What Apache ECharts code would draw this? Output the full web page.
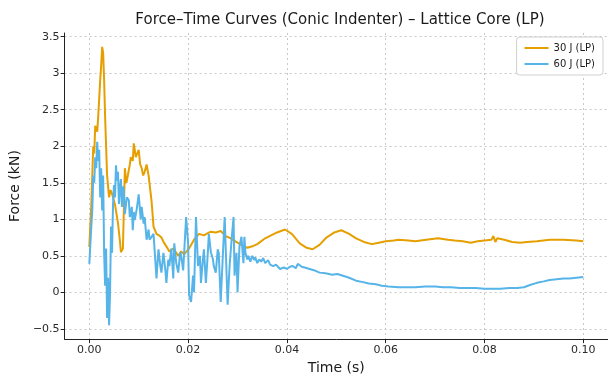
<!DOCTYPE html>
<html>
<head>
<meta charset="utf-8">
<script src="https://cdn.jsdelivr.net/npm/echarts@6/dist/echarts.min.js"></script>
<style>html,body{margin:0;padding:0;background:#fff;}#c{width:608px;height:380px;}</style>
</head>
<body>
<div id="c"></div>
<script>
const seriesNames = ["30 J (LP)", "60 J (LP)"];
const xTicks = [0, 0.02, 0.04, 0.06, 0.08, 0.10];
const yTicks = [-0.5, 0, 0.5, 1, 1.5, 2, 2.5, 3, 3.5];

const t30 = [0,0.0002,0.0004,0.0008,0.0010,0.0012,0.0016,0.0018,0.0022,0.0024,0.0026,0.0028,0.003,0.0032,0.0036,0.004,0.0043,0.0046,0.0052,0.0058,0.0062,0.0064,0.0068,0.0072,0.0075,0.0078,0.0082,0.0084,0.0088,0.009,0.0092,0.0094,0.0097,0.01,0.0103,0.0106,0.0109,0.0112,0.0116,0.012,0.0126,0.013,0.0136,0.0141,0.0146,0.0151,0.0156,0.0162,0.017,0.0175,0.018,0.0186,0.0192,0.0197,0.0202,0.0212,0.0222,0.0232,0.024,0.0246,0.0256,0.0266,0.0276,0.0286,0.03,0.031,0.032,0.033,0.034,0.0356,0.038,0.0396,0.041,0.0426,0.044,0.0452,0.0466,0.048,0.0496,0.051,0.0526,0.054,0.0556,0.0572,0.0586,0.06,0.0616,0.0626,0.0646,0.066,0.0682,0.0706,0.0726,0.074,0.0756,0.0772,0.0786,0.08,0.0814,0.0818,0.0822,0.0826,0.084,0.0856,0.0872,0.0886,0.0906,0.0932,0.096,0.0986,0.1];
const f30 = [0.62,0.64,1.2,2.0,1.9,2.28,2.2,2.4,2.9,3.1,3.36,3.28,2.9,2.4,1.6,1.3,1.4,1.35,1.2,0.95,0.7,0.55,0.6,1.7,1.5,1.6,1.75,1.85,1.8,2.04,1.95,1.85,1.9,1.95,1.75,1.7,1.6,1.65,1.75,1.6,1.25,0.9,0.8,0.78,0.75,0.68,0.63,0.56,0.6,0.55,0.5,0.56,0.52,0.56,0.6,0.72,0.8,0.78,0.81,0.83,0.82,0.84,0.77,0.74,0.68,0.64,0.61,0.63,0.66,0.74,0.82,0.86,0.8,0.67,0.61,0.59,0.65,0.75,0.82,0.85,0.8,0.74,0.69,0.66,0.68,0.7,0.71,0.72,0.71,0.70,0.72,0.74,0.72,0.71,0.70,0.68,0.70,0.71,0.72,0.77,0.69,0.74,0.72,0.69,0.68,0.69,0.70,0.72,0.72,0.71,0.70];

const t60 = [0,0.0002,0.0004,0.0006,0.0008,0.001,0.0012,0.0014,0.0016,0.0018,0.002,0.0022,0.0024,0.0026,0.0028,0.003,0.0032,0.0034,0.0036,0.0038,0.004,0.0042,0.0044,0.0046,0.0048,0.005,0.0052,0.0054,0.0056,0.0058,0.006,0.0062,0.0064,0.0066,0.0068,0.007,0.0072,0.0076,0.008,0.0082,0.0086,0.0088,0.009,0.0092,0.0096,0.01,0.0104,0.0106,0.011,0.0112,0.0116,0.012,0.0122,0.0126,0.013,0.0134,0.0136,0.014,0.0144,0.0146,0.015,0.0154,0.0156,0.016,0.0162,0.0166,0.017,0.0172,0.0176,0.018,0.0184,0.0186,0.019,0.0192,0.0196,0.02,0.0202,0.0206,0.021,0.0212,0.0216,0.022,0.0224,0.0226,0.023,0.0232,0.0236,0.024,0.0242,0.0246,0.025,0.0252,0.0256,0.026,0.0262,0.0266,0.027,0.0274,0.0278,0.028,0.0284,0.0288,0.0292,0.0294,0.0298,0.03,0.0304,0.0308,0.0312,0.0314,0.0316,0.032,0.0322,0.0326,0.033,0.0334,0.0336,0.034,0.0344,0.0348,0.0352,0.0356,0.0362,0.0366,0.0372,0.0378,0.0386,0.0394,0.04,0.0406,0.0412,0.0418,0.0422,0.043,0.0436,0.0446,0.0456,0.0466,0.0478,0.0492,0.0502,0.0512,0.0526,0.054,0.0554,0.0566,0.058,0.0592,0.0606,0.0626,0.0646,0.066,0.068,0.07,0.0716,0.0732,0.075,0.0766,0.0782,0.08,0.0816,0.0832,0.085,0.0866,0.088,0.0892,0.0906,0.092,0.0932,0.0946,0.096,0.0972,0.0986,0.1];
const f60 = [0.39,0.40,0.9,1.12,1.6,1.5,1.85,1.7,2.06,1.8,1.95,1.3,1.7,1.12,1.6,0.54,0.09,0.6,-0.35,0.2,-0.45,0.0,0.9,0.54,1.2,1.47,1.3,1.74,1.53,1.65,1.21,1.43,1.55,1.17,1.45,1.39,1.07,1.3,1.26,1.03,1.17,0.85,1.1,0.99,1.14,1.34,1.0,1.17,0.94,1.03,0.72,0.86,0.72,0.76,0.8,0.4,0.19,0.59,0.35,0.27,0.54,0.3,0.13,0.45,0.36,0.6,0.19,0.67,0.4,0.27,0.55,0.5,0.3,0.32,1.03,0.67,-0.04,-0.13,0.23,0.0,1.03,0.36,0.5,0.13,0.45,0.59,0.13,0.55,0.8,0.55,0.46,0.36,0.27,0.59,0.54,-0.13,0.46,1.03,0.23,-0.17,0.36,0.72,1.03,0.23,0.54,0.0,0.63,0.76,0.4,0.76,0.54,0.45,0.5,0.42,0.5,0.44,0.48,0.4,0.45,0.42,0.47,0.4,0.44,0.38,0.36,0.38,0.32,0.34,0.32,0.35,0.36,0.33,0.39,0.35,0.34,0.32,0.3,0.27,0.26,0.24,0.25,0.23,0.2,0.16,0.14,0.12,0.11,0.09,0.08,0.07,0.07,0.07,0.08,0.08,0.07,0.07,0.06,0.06,0.06,0.05,0.05,0.05,0.06,0.06,0.07,0.1,0.13,0.15,0.17,0.18,0.19,0.19,0.2,0.21];

const zip = (a, b) => a.map((v, i) => [v, b[i]]);
const FONT = '"DejaVu Sans", sans-serif';
const chart = echarts.init(document.getElementById('c'), null, {renderer: 'canvas'});
chart.setOption({
  animation: false,
  backgroundColor: '#fff',
  title: {
    text: 'Force\u2013Time Curves (Conic Indenter) \u2013 Lattice Core (LP)',
    left: 335, top: 8, textAlign: 'center',
    textStyle: {fontFamily: FONT, fontSize: 15, fontWeight: 'normal', color: '#1a1a1a'}
  },
  legend: {
    data: seriesNames, orient: 'vertical', right: 5, top: 37,
    itemWidth: 24, itemHeight: 2, itemGap: 6, icon: 'rect',
    padding: [6, 8, 6, 8], borderColor: '#d0d0d0', borderWidth: 1, borderRadius: 3,
    backgroundColor: '#fff',
    textStyle: {fontFamily: FONT, fontSize: 10, color: '#1a1a1a'}
  },
  grid: {left: 61.6, right: 0, top: 33, bottom: 34.8, containLabel: false},
  xAxis: {
    type: 'value', min: -0.005, max: 0.105,
    name: 'Time (s)', nameLocation: 'middle', nameGap: 17,
    nameTextStyle: {fontFamily: FONT, fontSize: 14, color: '#1a1a1a'},
    axisLine: {show: true, onZero: false, lineStyle: {color: '#222', width: 1}},
    axisTick: {show: true, inside: false, length: 4, customValues: xTicks, lineStyle: {color: '#222'}},
    axisLabel: {customValues: xTicks, fontFamily: FONT, fontSize: 11, color: '#2a2a2a', margin: 6,
      formatter: v => v.toFixed(2)},
    splitLine: {show: true, lineStyle: {color: '#c8c8c8', type: [2, 3], width: 1}}
  },
  yAxis: {
    type: 'value', min: -0.64, max: 3.55,
    name: 'Force (kN)', nameLocation: 'middle', nameGap: 33, nameRotate: 90,
    nameTextStyle: {fontFamily: FONT, fontSize: 14, color: '#1a1a1a'},
    axisLine: {show: true, onZero: false, lineStyle: {color: '#222', width: 1}},
    axisTick: {show: true, inside: false, length: 4, customValues: yTicks, lineStyle: {color: '#222'}},
    axisLabel: {customValues: yTicks, fontFamily: FONT, fontSize: 11, color: '#2a2a2a', margin: 5,
      formatter: v => (v < 0 ? '\u2212' + Math.abs(v) : String(v))},
    splitLine: {show: true, lineStyle: {color: '#c8c8c8', type: [2, 3], width: 1}}
  },
  series: [
    {name: seriesNames[0], type: 'line', data: zip(t30, f30), showSymbol: false,
      lineStyle: {color: '#E69F00', width: 2}, itemStyle: {color: '#E69F00'}},
    {name: seriesNames[1], type: 'line', data: zip(t60, f60), showSymbol: false,
      lineStyle: {color: '#56B4E9', width: 2}, itemStyle: {color: '#56B4E9'}}
  ]
});
</script>
</body>
</html>
